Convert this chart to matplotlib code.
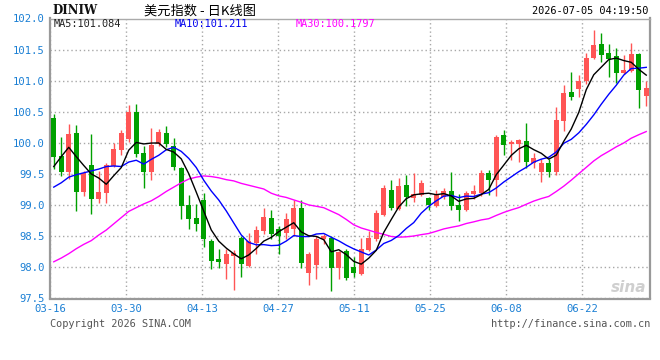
import numpy as np
import matplotlib
matplotlib.use("Agg")
import matplotlib.pyplot as plt

# ---------------- data ----------------
tick_labels = ["03-16", "03-30", "04-13", "04-27", "05-11", "05-25", "06-08", "06-22"]

opens = [100.40, 99.79, 99.53, 100.16, 99.21, 99.65, 99.10, 99.19, 99.63, 99.88,
         100.07, 100.50, 99.84, 99.53, 99.98, 100.16, 99.95, 99.60, 99.01, 98.80,
         99.09, 98.42, 98.13, 98.06, 98.19, 98.47, 98.03, 98.39, 98.59, 98.79,
         98.62, 98.55, 98.61, 98.95, 97.91, 98.04, 98.45, 98.48, 97.99, 98.27,
         98.00, 97.89, 98.28, 98.45, 98.85, 99.25, 98.94, 99.32, 99.11, 99.17,
         99.11, 98.99, 99.13, 99.22, 99.00, 98.93, 99.18, 99.20, 99.52, 99.41,
         100.13, 99.99, 99.99, 100.03, 99.67, 99.53, 99.67, 99.53, 100.35, 100.82,
         100.87, 101.00, 101.37, 101.59, 101.44, 101.39, 101.12, 101.16, 101.43, 100.76]
highs = [100.47, 100.10, 100.30, 100.29, 99.55, 100.15, 99.55, 99.67, 100.00, 100.20,
         100.61, 100.63, 99.95, 100.24, 100.22, 100.27, 100.08, 99.62, 99.17, 99.02,
         99.20, 98.45, 98.30, 98.29, 98.28, 98.50, 98.56, 98.67, 98.95, 98.92,
         98.66, 98.87, 99.08, 99.09, 98.24, 98.50, 98.54, 98.51, 98.27, 98.29,
         98.16, 98.47, 98.59, 98.92, 99.33, 99.41, 99.44, 99.48, 99.52, 99.41,
         99.13, 99.25, 99.27, 99.54, 99.18, 99.22, 99.33, 99.56, 99.57, 100.13,
         100.21, 100.04, 100.07, 100.32, 99.84, 99.74, 99.74, 100.58, 100.93, 101.14,
         101.09, 101.44, 101.81, 101.76, 101.59, 101.52, 101.41, 101.60, 101.44, 101.00]
lows = [99.58, 99.47, 99.42, 98.91, 99.14, 98.86, 99.04, 99.04, 99.62, 99.80,
        100.01, 99.78, 99.28, 99.40, 99.95, 99.93, 99.56, 98.77, 98.61, 98.58,
        98.33, 97.97, 97.99, 97.82, 97.63, 97.85, 98.00, 98.22, 98.53, 98.46,
        98.22, 98.46, 98.50, 97.99, 97.71, 97.82, 98.38, 97.62, 97.82, 97.80,
        97.84, 97.88, 98.26, 98.42, 98.83, 98.93, 98.92, 98.98, 99.05, 99.15,
        98.93, 98.97, 99.10, 98.93, 98.75, 98.90, 99.10, 99.15, 99.17, 99.15,
        99.81, 99.73, 99.70, 99.59, 99.59, 99.37, 99.45, 99.48, 100.19, 100.69,
        100.74, 100.95, 101.35, 101.30, 101.06, 100.97, 101.11, 101.14, 100.56, 100.60]
closes = [99.78, 99.54, 100.15, 99.21, 99.51, 99.10, 99.21, 99.65, 99.90, 100.16,
          100.50, 99.83, 99.53, 99.97, 100.17, 99.98, 99.62, 98.98, 98.78, 98.69,
          98.45, 98.11, 98.08, 98.22, 98.23, 98.05, 98.42, 98.60, 98.81, 98.53,
          98.51, 98.78, 98.96, 98.07, 98.22, 98.46, 98.51, 97.99, 98.24, 97.83,
          97.91, 98.29, 98.47, 98.87, 99.27, 98.95, 99.30, 99.13, 99.18, 99.35,
          99.00, 99.18, 99.22, 98.99, 98.92, 99.19, 99.23, 99.52, 99.41, 100.10,
          99.96, 100.01, 100.05, 99.69, 99.75, 99.67, 99.54, 100.37, 100.80, 100.74,
          101.00, 101.37, 101.57, 101.41, 101.35, 101.12, 101.17, 101.43, 100.85, 100.88]

# moving-average values at the start of the window (history before 03-16)
ma5_head = [99.62, 99.78, 99.93, 99.78]
ma10_head = [99.29, 99.36, 99.45, 99.49, 99.52, 99.55, 99.58, 99.62, 99.63]
ma30_head = [98.09, 98.15, 98.22, 98.30, 98.37, 98.43, 98.52, 98.60, 98.70, 98.80,
             98.90, 98.96, 99.02, 99.07, 99.14, 99.22, 99.29, 99.36, 99.42, 99.45,
             99.47, 99.46, 99.44, 99.41, 99.39, 99.35, 99.32, 99.29, 99.26]

legend_ma5 = "MA5:101.084"
legend_ma10 = "MA10:101.211"
legend_ma30 = "MA30:100.1797"
title_text = "美元指数 - 日K线图"
symbol_text = "DINIW"
time_text = "2026-07-05 04:19:50"


def moving_average(vals, n, head):
    vals = np.asarray(vals, dtype=float)
    out = np.empty(len(vals))
    out[:len(head)] = head
    for i in range(len(head), len(vals)):
        out[i] = vals[i - n + 1:i + 1].mean()
    return out


ma5 = moving_average(closes, 5, ma5_head)
ma10 = moving_average(closes, 10, ma10_head)
ma30 = moving_average(closes, 30, ma30_head)

# ---------------- figure ----------------
W, H = 660, 360
fig = plt.figure(figsize=(W / 100, H / 100), dpi=100)
fig.patch.set_facecolor("white")
L, R, T, B = 50, 650, 18.5, 298.5
ax = fig.add_axes([L / W, 1 - B / H, (R - L) / W, (B - T) / H])

n = len(closes)
x = np.arange(n)
ax.set_xlim(-0.5, n - 0.5)
ax.set_ylim(97.5, 102.0)

red = "#ff5555"
green = "#00a000"
for i in x:
    o, h, l, c = opens[i], highs[i], lows[i], closes[i]
    col = red if c >= o else green
    ax.vlines(i, l, h, color=col, linewidth=1.0, zorder=3)
    body = max(abs(c - o), 0.014)
    ax.bar(i, body, bottom=min(o, c), width=0.72, color=col, linewidth=0, zorder=3)

ax.plot(x, ma30, color="#ff00ff", linewidth=1.0, zorder=4)
ax.plot(x, ma10, color="#0000ff", linewidth=1.0, zorder=4)
ax.plot(x, ma5, color="#000000", linewidth=1.0, zorder=5)

# grid / ticks
mono = "DejaVu Sans Mono"
tick_color = "#1a7fd4"
slot = (R - L) / n
grid_x = [-0.5 + k * 76 / slot for k in range(len(tick_labels))]
ax.set_xticks(grid_x)
ax.set_xticklabels(tick_labels)
yt = np.arange(97.5, 102.01, 0.5)
ax.set_yticks(yt)
ax.set_yticklabels([f"{v:.1f}" for v in yt])
ax.tick_params(axis="both", length=0, colors=tick_color, labelsize=7.6)
ax.tick_params(axis="y", pad=4)
ax.tick_params(axis="x", pad=4)
for lab in ax.get_xticklabels() + ax.get_yticklabels():
    lab.set_fontfamily(mono)
ax.grid(True, color="#a8a8a8", linestyle=(0, (1, 2)), linewidth=1.0)
ax.set_axisbelow(True)
for side in ["left", "bottom", "right"]:
    ax.spines[side].set_color("#999999")
    ax.spines[side].set_linewidth(1.6)
ax.spines["top"].set_color("#aaaaaa")
ax.spines["top"].set_linewidth(1.0)


def ftext(px, py, s, **kw):
    fig.text(px / W, 1 - py / H, s, **kw)


# header
ftext(52, 11, symbol_text, fontsize=8.5, fontweight="bold", family="DejaVu Serif",
      va="center", ha="left", color="#111111")
ftext(200, 11, title_text, fontsize=9.5, family=["Noto Sans CJK SC", "DejaVu Sans"],
      va="center", ha="center", color="#000000")
ftext(648, 11, time_text, fontsize=7.4, family=mono, va="center", ha="right", color="#000000")

# MA legend inside plot
ftext(54, 24, legend_ma5, fontsize=7.4, family=mono, va="center", ha="left", color="#222222")
ftext(175, 24, legend_ma10, fontsize=7.4, family=mono, va="center", ha="left", color="#0000ee")
ftext(296, 24, legend_ma30, fontsize=7.4, family=mono, va="center", ha="left", color="#ff00ff")

# footer
ftext(50, 324, "Copyright 2026 SINA.COM", fontsize=7.4, family=mono, va="center",
      ha="left", color="#555555")
ftext(650, 324, "http://finance.sina.com.cn", fontsize=7.4, family=mono, va="center",
      ha="right", color="#555555")

# watermark
ftext(629, 287, "sina", fontsize=11, fontweight="bold", style="italic", va="center",
      ha="center", color="#cfcfcf")

fig.savefig("out.png", dpi=100, facecolor="white")
